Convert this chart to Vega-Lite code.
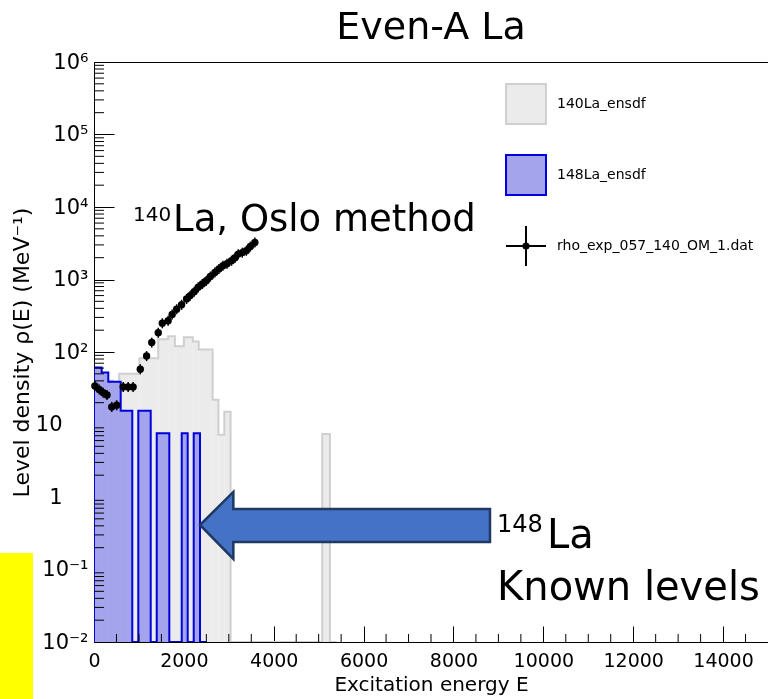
{
 "$schema": "https://vega.github.io/schema/vega-lite/v6.json",
 "width": 674, "height": 580,
 "autosize": "none",
 "padding": {"left": 94, "top": 62, "right": 0, "bottom": 57},
 "background": "white",
 "title": {"text": "Even-A La", "font": "DejaVu Sans", "fontSize": 38, "fontWeight": "normal", "color": "black", "anchor": "middle", "frame": "group", "offset": 4},
 "config": {
  "view": {"stroke": "black", "strokeWidth": 1},
  "axis": {"domainColor": "black", "tickColor": "black", "labelColor": "black", "titleColor": "black", "grid": false, "domainWidth": 1, "tickWidth": 1}
 },
 "datasets": {
  "hist": [
   {"series": "140La_ensdf", "e0": -150, "e1": 0, "v": 0.01},
   {"series": "140La_ensdf", "e0": 0, "e1": 430, "v": 40},
   {"series": "140La_ensdf", "e0": 430, "e1": 560, "v": 7.2},
   {"series": "140La_ensdf", "e0": 560, "e1": 1010, "v": 50},
   {"series": "140La_ensdf", "e0": 1010, "e1": 1430, "v": 82},
   {"series": "140La_ensdf", "e0": 1430, "e1": 1650, "v": 150},
   {"series": "140La_ensdf", "e0": 1650, "e1": 1800, "v": 165},
   {"series": "140La_ensdf", "e0": 1800, "e1": 2000, "v": 120},
   {"series": "140La_ensdf", "e0": 2000, "e1": 2200, "v": 160},
   {"series": "140La_ensdf", "e0": 2200, "e1": 2330, "v": 140},
   {"series": "140La_ensdf", "e0": 2330, "e1": 2640, "v": 108},
   {"series": "140La_ensdf", "e0": 2640, "e1": 2770, "v": 22},
   {"series": "140La_ensdf", "e0": 2770, "e1": 2900, "v": 7.2},
   {"series": "140La_ensdf", "e0": 2900, "e1": 3040, "v": 15},
   {"series": "140La_ensdf", "e0": 3040, "e1": 5080, "v": 0.01},
   {"series": "140La_ensdf", "e0": 5080, "e1": 5250, "v": 7.4},
   {"series": "140La_ensdf", "e0": 5250, "e1": 5400, "v": 0.01},
   {"series": "148La_ensdf", "e0": -150, "e1": 0, "v": 0.01},
   {"series": "148La_ensdf", "e0": 0, "e1": 171, "v": 61},
   {"series": "148La_ensdf", "e0": 171, "e1": 318, "v": 52},
   {"series": "148La_ensdf", "e0": 318, "e1": 594, "v": 39},
   {"series": "148La_ensdf", "e0": 594, "e1": 852, "v": 15.5},
   {"series": "148La_ensdf", "e0": 852, "e1": 986, "v": 0.01},
   {"series": "148La_ensdf", "e0": 986, "e1": 1262, "v": 15.5},
   {"series": "148La_ensdf", "e0": 1262, "e1": 1396, "v": 0.01},
   {"series": "148La_ensdf", "e0": 1396, "e1": 1676, "v": 7.6},
   {"series": "148La_ensdf", "e0": 1676, "e1": 1952, "v": 0.01},
   {"series": "148La_ensdf", "e0": 1952, "e1": 2085, "v": 7.6},
   {"series": "148La_ensdf", "e0": 2085, "e1": 2219, "v": 0.01},
   {"series": "148La_ensdf", "e0": 2219, "e1": 2359, "v": 7.6},
   {"series": "148La_ensdf", "e0": 2359, "e1": 2500, "v": 0.01}
  ],
  "oslo": [
   {"series": "rho_exp_057_140_OM_1.dat", "e": 20, "v": 34, "lo": 28.9, "hi": 39.8},
   {"series": "rho_exp_057_140_OM_1.dat", "e": 115, "v": 30.5, "lo": 25.9, "hi": 35.7},
   {"series": "rho_exp_057_140_OM_1.dat", "e": 205, "v": 27.5, "lo": 23.4, "hi": 32.2},
   {"series": "rho_exp_057_140_OM_1.dat", "e": 290, "v": 25.5, "lo": 21.7, "hi": 29.8},
   {"series": "rho_exp_057_140_OM_1.dat", "e": 395, "v": 17.5, "lo": 14.9, "hi": 20.5},
   {"series": "rho_exp_057_140_OM_1.dat", "e": 505, "v": 18.5, "lo": 15.7, "hi": 21.6},
   {"series": "rho_exp_057_140_OM_1.dat", "e": 650, "v": 33, "lo": 28, "hi": 38.6},
   {"series": "rho_exp_057_140_OM_1.dat", "e": 760, "v": 33, "lo": 28, "hi": 38.6},
   {"series": "rho_exp_057_140_OM_1.dat", "e": 870, "v": 33, "lo": 28, "hi": 38.6},
   {"series": "rho_exp_057_140_OM_1.dat", "e": 1030, "v": 58, "lo": 49.3, "hi": 67.9},
   {"series": "rho_exp_057_140_OM_1.dat", "e": 1170, "v": 88, "lo": 74.8, "hi": 103},
   {"series": "rho_exp_057_140_OM_1.dat", "e": 1285, "v": 135, "lo": 115, "hi": 158},
   {"series": "rho_exp_057_140_OM_1.dat", "e": 1430, "v": 185, "lo": 157, "hi": 216},
   {"series": "rho_exp_057_140_OM_1.dat", "e": 1520, "v": 250, "lo": 212, "hi": 292},
   {"series": "rho_exp_057_140_OM_1.dat", "e": 1650, "v": 270, "lo": 230, "hi": 316},
   {"series": "rho_exp_057_140_OM_1.dat", "e": 1740, "v": 330, "lo": 280, "hi": 386},
   {"series": "rho_exp_057_140_OM_1.dat", "e": 1840, "v": 390, "lo": 332, "hi": 456},
   {"series": "rho_exp_057_140_OM_1.dat", "e": 1950, "v": 450, "lo": 382, "hi": 526},
   {"series": "rho_exp_057_140_OM_1.dat", "e": 2060, "v": 540, "lo": 459, "hi": 632},
   {"series": "rho_exp_057_140_OM_1.dat", "e": 2140, "v": 600, "lo": 510, "hi": 702},
   {"series": "rho_exp_057_140_OM_1.dat", "e": 2230, "v": 680, "lo": 578, "hi": 796},
   {"series": "rho_exp_057_140_OM_1.dat", "e": 2320, "v": 780, "lo": 663, "hi": 913},
   {"series": "rho_exp_057_140_OM_1.dat", "e": 2410, "v": 870, "lo": 740, "hi": 1018},
   {"series": "rho_exp_057_140_OM_1.dat", "e": 2500, "v": 960, "lo": 816, "hi": 1123},
   {"series": "rho_exp_057_140_OM_1.dat", "e": 2590, "v": 1100, "lo": 935, "hi": 1287},
   {"series": "rho_exp_057_140_OM_1.dat", "e": 2690, "v": 1250, "lo": 1062, "hi": 1462},
   {"series": "rho_exp_057_140_OM_1.dat", "e": 2780, "v": 1400, "lo": 1190, "hi": 1638},
   {"series": "rho_exp_057_140_OM_1.dat", "e": 2870, "v": 1550, "lo": 1318, "hi": 1814},
   {"series": "rho_exp_057_140_OM_1.dat", "e": 2960, "v": 1650, "lo": 1402, "hi": 1930},
   {"series": "rho_exp_057_140_OM_1.dat", "e": 3060, "v": 1820, "lo": 1547, "hi": 2129},
   {"series": "rho_exp_057_140_OM_1.dat", "e": 3140, "v": 2000, "lo": 1700, "hi": 2340},
   {"series": "rho_exp_057_140_OM_1.dat", "e": 3210, "v": 2240, "lo": 1904, "hi": 2621},
   {"series": "rho_exp_057_140_OM_1.dat", "e": 3300, "v": 2350, "lo": 1998, "hi": 2750},
   {"series": "rho_exp_057_140_OM_1.dat", "e": 3390, "v": 2500, "lo": 2125, "hi": 2925},
   {"series": "rho_exp_057_140_OM_1.dat", "e": 3480, "v": 2850, "lo": 2422, "hi": 3334},
   {"series": "rho_exp_057_140_OM_1.dat", "e": 3580, "v": 3240, "lo": 2754, "hi": 3791}
  ],
  "xminor": [{"t": 500}, {"t": 1000}, {"t": 1500}, {"t": 2500}, {"t": 3000}, {"t": 3500}, {"t": 4500}, {"t": 5000}, {"t": 5500}, {"t": 6500}, {"t": 7000}, {"t": 7500}, {"t": 8500}, {"t": 9000}, {"t": 9500}, {"t": 10500}, {"t": 11000}, {"t": 11500}, {"t": 12500}, {"t": 13000}, {"t": 13500}, {"t": 14500}],
  "yminor": [{"t": 0.02}, {"t": 0.03}, {"t": 0.04}, {"t": 0.05}, {"t": 0.06}, {"t": 0.07}, {"t": 0.08}, {"t": 0.09},
   {"t": 0.2}, {"t": 0.3}, {"t": 0.4}, {"t": 0.5}, {"t": 0.6}, {"t": 0.7}, {"t": 0.8}, {"t": 0.9},
   {"t": 2}, {"t": 3}, {"t": 4}, {"t": 5}, {"t": 6}, {"t": 7}, {"t": 8}, {"t": 9},
   {"t": 20}, {"t": 30}, {"t": 40}, {"t": 50}, {"t": 60}, {"t": 70}, {"t": 80}, {"t": 90},
   {"t": 200}, {"t": 300}, {"t": 400}, {"t": 500}, {"t": 600}, {"t": 700}, {"t": 800}, {"t": 900},
   {"t": 2000}, {"t": 3000}, {"t": 4000}, {"t": 5000}, {"t": 6000}, {"t": 7000}, {"t": 8000}, {"t": 9000},
   {"t": 20000}, {"t": 30000}, {"t": 40000}, {"t": 50000}, {"t": 60000}, {"t": 70000}, {"t": 80000}, {"t": 90000},
   {"t": 200000}, {"t": 300000}, {"t": 400000}, {"t": 500000}, {"t": 600000}, {"t": 700000}, {"t": 800000}, {"t": 900000}]
 },
 "layer": [
  {
   "data": {"name": "hist"},
   "transform": [{"filter": "datum.series == '140La_ensdf' && datum.v > 0.011"}],
   "mark": {"type": "rect", "clip": true},
   "encoding": {
    "x": {"field": "e0", "type": "quantitative", "scale": {"domain": [0, 15000], "nice": false, "zero": false},
     "axis": {
      "values": [0, 2000, 4000, 6000, 8000, 10000, 12000, 14000],
      "format": "d",
      "tickSize": -16,
      "labelFont": "DejaVu Sans", "labelFontSize": 19, "labelPadding": 25,
      "labelOverlap": false, "labelFlush": false, "labelBound": false,
      "title": "Excitation energy E", "titleFont": "DejaVu Sans", "titleFontSize": 20, "titleFontWeight": "normal", "titlePadding": 4
     }},
    "x2": {"field": "e1"},
    "y": {"field": "v", "type": "quantitative", "scale": {"type": "log", "domain": [0.01, 1000000], "nice": false},
     "axis": {
      "values": [0.01, 0.1, 1, 10, 100, 1000, 10000, 100000, 1000000],
      "labelExpr": "datum.value == 1000000 ? '10⁶' : datum.value == 100000 ? '10⁵' : datum.value == 10000 ? '10⁴' : datum.value == 1000 ? '10³' : datum.value == 100 ? '10²' : datum.value == 10 ? '10' : datum.value == 1 ? '1' : datum.value == 0.1 ? '10⁻¹' : '10⁻²'",
      "tickSize": -20,
      "labelFont": "DejaVu Sans", "labelFontSize": 21,
      "labelPadding": {"condition": {"test": "datum.value == 1 || datum.value == 10", "value": 52}, "value": 26},
      "labelOverlap": false, "labelFlush": false, "labelBound": false,
      "title": "Level density ρ(E) (MeV⁻¹)", "titleFont": "DejaVu Sans", "titleFontSize": 22, "titleFontWeight": "normal", "titlePadding": 2
     }},
    "y2": {"datum": 0.01},
    "fill": {"field": "series", "type": "nominal",
     "scale": {"domain": ["140La_ensdf", "148La_ensdf", "rho_exp_057_140_OM_1.dat"], "range": ["#ebebeb", "#a4a4ec", "black"]},
     "legend": {"orient": "none", "legendX": 411, "legendY": 21, "title": null, "symbolSize": 1600, "symbolType": "square",
      "labelFont": "DejaVu Sans", "labelFontSize": 14, "labelColor": "black", "labelOffset": 10, "rowPadding": 23, "padding": 0, "labelLimit": 400, "symbolStrokeWidth": 2,
      "encode": {"symbols": {"update": {
       "shape": {"signal": "datum.value == 'rho_exp_057_140_OM_1.dat' ? 'M-1,0H1M0,-1V1M-0.13,0A0.13,0.13,0,1,0,0.13,0A0.13,0.13,0,1,0,-0.13,0' : 'square'"},
       "stroke": {"signal": "datum.value == '140La_ensdf' ? '#cfcfcf' : datum.value == '148La_ensdf' ? '#0000dd' : 'black'"},
       "strokeWidth": {"value": 2}, "opacity": {"value": 1}, "fillOpacity": {"value": 1}, "strokeOpacity": {"value": 1}
      }}}}
    }
   }
  },
  {
   "data": {"name": "hist"},
   "transform": [{"filter": "datum.series == '140La_ensdf'"}, {"fold": ["e0", "e1"], "as": ["edge", "e"]}],
   "mark": {"type": "line", "clip": true, "color": "#cfcfcf", "strokeWidth": 2},
   "encoding": {
    "x": {"field": "e", "type": "quantitative"},
    "y": {"field": "v", "type": "quantitative"},
    "order": {"value": null}
   }
  },
  {
   "data": {"name": "hist"},
   "transform": [{"filter": "datum.series == '148La_ensdf' && datum.v > 0.011"}],
   "mark": {"type": "rect", "clip": true, "blend": "multiply"},
   "encoding": {
    "x": {"field": "e0", "type": "quantitative"},
    "x2": {"field": "e1"},
    "y": {"field": "v", "type": "quantitative"},
    "y2": {"datum": 0.01},
    "fill": {"field": "series", "type": "nominal"}
   }
  },
  {
   "data": {"name": "hist"},
   "transform": [{"filter": "datum.series == '148La_ensdf'"}, {"fold": ["e0", "e1"], "as": ["edge", "e"]}],
   "mark": {"type": "line", "clip": true, "color": "#0000dd", "strokeWidth": 2},
   "encoding": {
    "x": {"field": "e", "type": "quantitative"},
    "y": {"field": "v", "type": "quantitative"},
    "order": {"value": null}
   }
  },
  {
   "data": {"name": "xminor"},
   "mark": {"type": "rule", "color": "black", "strokeWidth": 1},
   "encoding": {
    "x": {"field": "t", "type": "quantitative"},
    "y": {"datum": 0.01, "type": "quantitative"},
    "y2": {"datum": 0.0129}
   }
  },
  {
   "data": {"name": "yminor"},
   "mark": {"type": "rule", "color": "black", "strokeWidth": 1},
   "encoding": {
    "y": {"field": "t", "type": "quantitative"},
    "x": {"datum": 0, "type": "quantitative"},
    "x2": {"datum": 222}
   }
  },
  {
   "data": {"name": "oslo"},
   "mark": {"type": "rule", "color": "black", "strokeWidth": 1.5},
   "encoding": {
    "x": {"field": "e", "type": "quantitative"},
    "y": {"field": "lo", "type": "quantitative"},
    "y2": {"field": "hi"}
   }
  },
  {
   "data": {"name": "oslo"},
   "mark": {"type": "point", "shape": "circle", "filled": true, "size": 55, "opacity": 1},
   "encoding": {
    "x": {"field": "e", "type": "quantitative"},
    "y": {"field": "v", "type": "quantitative"},
    "fill": {"field": "series", "type": "nominal"}
   }
  },
  {
   "data": {"values": [{"label": "box"}]},
   "mark": {"type": "rect", "color": "#ffff00", "clip": false},
   "encoding": {
    "x": {"datum": -2092, "type": "quantitative"},
    "x2": {"datum": -1358},
    "y": {"datum": 0.169, "type": "quantitative"},
    "y2": {"datum": 0.00164}
   }
  },
  {
   "data": {"values": [{"label": "arrow"}]},
   "mark": {"type": "point", "shape": "M-1,0L-0.77,-0.228L-0.77,-0.11L1,-0.11L1,0.117L-0.77,0.117L-0.77,0.234Z", "size": 84100, "filled": true, "fill": "#4472c4", "stroke": "#1f3864", "strokeWidth": 2.5, "opacity": 1, "clip": false},
   "encoding": {
    "x": {"datum": 5586, "type": "quantitative"},
    "y": {"datum": 0.411, "type": "quantitative"}
   }
  },
  {
   "data": {"values": [{"t": "140", "e": 868, "v": 6410}]},
   "mark": {"type": "text", "font": "DejaVu Sans", "fontSize": 20, "align": "left", "baseline": "alphabetic", "color": "black", "clip": false},
   "encoding": {"text": {"field": "t"}, "x": {"field": "e", "type": "quantitative"}, "y": {"field": "v", "type": "quantitative"}}
  },
  {
   "data": {"values": [{"t": "148", "e": 8970, "v": 0.329}]},
   "mark": {"type": "text", "font": "DejaVu Sans", "fontSize": 24, "align": "left", "baseline": "alphabetic", "color": "black", "clip": false},
   "encoding": {"text": {"field": "t"}, "x": {"field": "e", "type": "quantitative"}, "y": {"field": "v", "type": "quantitative"}}
  },
  {
   "data": {"values": [{"t": "La, Oslo method", "e": 1760, "v": 4670}]},
   "mark": {"type": "text", "font": "DejaVu Sans", "fontSize": 37, "align": "left", "baseline": "alphabetic", "color": "black", "clip": false},
   "encoding": {"text": {"field": "t"}, "x": {"field": "e", "type": "quantitative"}, "y": {"field": "v", "type": "quantitative"}}
  },
  {
   "data": {"values": [{"t": "La", "e": 10082, "v": 0.198}, {"t": "Known levels", "e": 8970, "v": 0.0379}]},
   "mark": {"type": "text", "font": "DejaVu Sans", "fontSize": 40, "align": "left", "baseline": "alphabetic", "color": "black", "clip": false},
   "encoding": {"text": {"field": "t"}, "x": {"field": "e", "type": "quantitative"}, "y": {"field": "v", "type": "quantitative"}}
  }
 ]
}
